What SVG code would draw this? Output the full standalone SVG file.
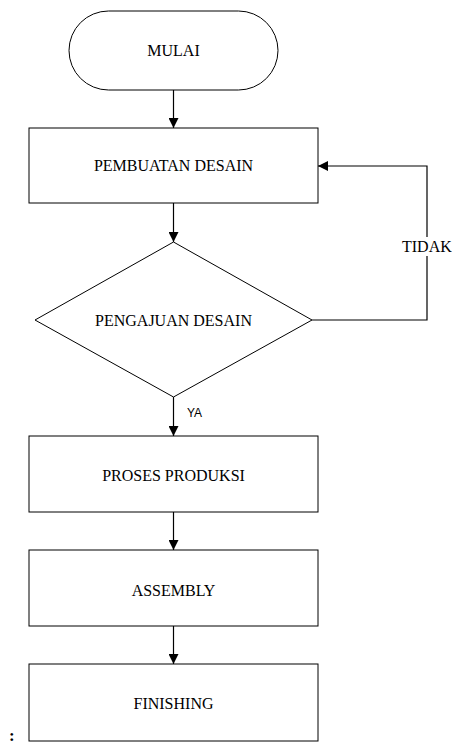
<svg xmlns="http://www.w3.org/2000/svg" width="452" height="745" viewBox="0 0 452 745">
  <defs>
    <style>
      .shape { fill: #ffffff; stroke: #000000; stroke-width: 1; }
      .line { fill: none; stroke: #000000; stroke-width: 1.2; }
      .lbl { font-family: "Liberation Serif", "Times New Roman", serif; font-size: 16px; fill: #000000; text-anchor: middle; }
      .yes { font-family: "Liberation Sans", Arial, sans-serif; font-size: 12px; fill: #000000; }
    </style>
    <marker id="arr" viewBox="0 0 10 10" refX="10" refY="5" markerWidth="10" markerHeight="10" markerUnits="userSpaceOnUse" orient="auto">
      <path d="M0,0 L10,5 L0,10 Z" fill="#000000"/>
    </marker>
  </defs>
  <rect width="452" height="745" fill="#ffffff"/>

  <g id="connectors">
    <line class="line" x1="173.5" y1="90" x2="173.5" y2="128" marker-end="url(#arr)"/>
    <line class="line" x1="173.5" y1="203" x2="173.5" y2="242" marker-end="url(#arr)"/>
    <polyline class="line" points="312,320 427,320 427,166 318,166" marker-end="url(#arr)"/>
    <line class="line" x1="173.5" y1="397" x2="173.5" y2="436" marker-end="url(#arr)"/>
    <line class="line" x1="173.5" y1="512" x2="173.5" y2="550" marker-end="url(#arr)"/>
    <line class="line" x1="173.5" y1="626" x2="173.5" y2="664" marker-end="url(#arr)"/>
    <rect x="401" y="237" width="51" height="19" fill="#ffffff"/>
    <text x="402" y="252" class="lbl" style="text-anchor:start">TIDAK</text>
    <text x="187" y="417" class="yes">YA</text>
  </g>

  <g id="mulai">
    <rect class="shape" x="69" y="11" width="209" height="79" rx="39.5" ry="39.5"/>
    <text x="173.5" y="56" class="lbl">MULAI</text>
  </g>
  <g id="pembuatan-desain">
    <rect class="shape" x="29" y="128" width="289" height="75"/>
    <text x="173.5" y="171" class="lbl">PEMBUATAN DESAIN</text>
  </g>
  <g id="pengajuan-desain">
    <polygon class="shape" points="173.5,242 312,320 173.5,397 35,320"/>
    <text x="173.5" y="326" class="lbl">PENGAJUAN DESAIN</text>
  </g>
  <g id="proses-produksi">
    <rect class="shape" x="29" y="436" width="289" height="76"/>
    <text x="173.5" y="481" class="lbl">PROSES PRODUKSI</text>
  </g>
  <g id="assembly">
    <rect class="shape" x="29" y="550" width="289" height="76"/>
    <text x="173.5" y="596" class="lbl">ASSEMBLY</text>
  </g>
  <g id="finishing">
    <rect class="shape" x="29" y="664" width="289" height="77"/>
    <text x="173.5" y="709" class="lbl">FINISHING</text>
  </g>
  <text x="9" y="741" style="font-family:'Liberation Serif','Times New Roman',serif;font-size:17px;font-weight:bold;fill:#000">:</text>
</svg>
